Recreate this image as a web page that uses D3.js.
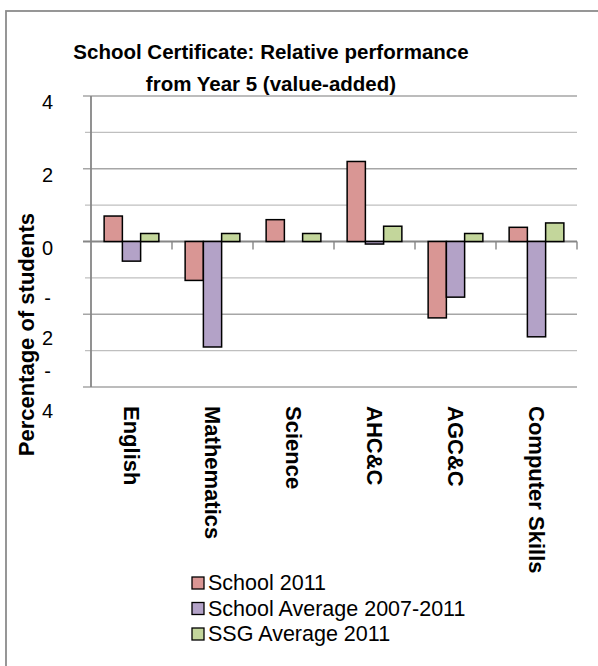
<!DOCTYPE html>
<html>
<head>
<meta charset="utf-8">
<script src="https://cdn.jsdelivr.net/npm/d3@7"></script>
<style>
  body { margin: 0; background: #fff; }
  svg { display: block; font-family: "Liberation Sans", Arial, sans-serif; }
</style>
</head>
<body>
<script>
// data
const categories = ["English", "Mathematics", "Science", "AHC&C", "AGC&C", "Computer Skills"];
const seriesNames = ["School 2011", "School Average 2007-2011", "SSG Average 2011"];
const school2011 = [0.7, -1.07, 0.6, 2.2, -2.1, 0.39];
const schoolAvg = [-0.54, -2.9, 0, -0.07, -1.53, -2.62];
const ssgAvg = [0.22, 0.22, 0.22, 0.42, 0.22, 0.51];
const seriesColors = ["#D99694", "#B3A2C7", "#C3D69B"];
const yMajor = [4, 2, 0, -2, -4];
const yMinor = [3, 1, -1, -3];

const width = 598, height = 666;
const plot = { left: 91, right: 577, top: 96, bottom: 387 };

const values = [school2011, schoolAvg, ssgAvg];
const data = categories.map((c, i) => ({
  category: c,
  bars: seriesNames.map((s, j) => ({ series: s, value: values[j][i], color: seriesColors[j] }))
}));

const x0 = d3.scaleBand().domain(categories).range([plot.left, plot.right]);
const x1 = d3.scaleBand().domain(seriesNames).range([0, x0.bandwidth()]).paddingOuter(0.72);
const y = d3.scaleLinear().domain([-4, 4]).range([plot.bottom, plot.top]);

const svg = d3.select("body").append("svg")
  .attr("width", width)
  .attr("height", height);

// outer chart border (runs off the right and bottom of the crop)
svg.append("rect")
  .attr("x", 6).attr("y", 11)
  .attr("width", 700).attr("height", 800)
  .attr("fill", "none")
  .attr("stroke", "#8c8c8c")
  .attr("stroke-width", 1.8);

// title
svg.append("text")
  .attr("x", 271).attr("y", 59)
  .attr("text-anchor", "middle")
  .attr("font-weight", "bold")
  .attr("font-size", 20.5)
  .selectAll("tspan")
  .data(["School Certificate: Relative performance", "from Year 5 (value-added)"])
  .join("tspan")
  .attr("x", 271)
  .attr("dy", (d, i) => (i ? 32 : 0))
  .text(d => d);

// gridlines
svg.append("g")
  .selectAll("line")
  .data(yMinor)
  .join("line")
  .attr("x1", plot.left - 6).attr("x2", plot.right)
  .attr("y1", d => y(d)).attr("y2", d => y(d))
  .attr("stroke", "#bfbfbf")
  .attr("stroke-width", 1.4);

svg.append("g")
  .selectAll("line")
  .data(yMajor)
  .join("line")
  .attr("x1", plot.left - 8).attr("x2", plot.right)
  .attr("y1", d => y(d)).attr("y2", d => y(d))
  .attr("stroke", d => (d === 0 ? "#868686" : "#a6a6a6"))
  .attr("stroke-width", d => (d === 0 ? 1.8 : 1.4));

// y axis line
svg.append("line")
  .attr("x1", plot.left).attr("x2", plot.left)
  .attr("y1", plot.top).attr("y2", plot.bottom)
  .attr("stroke", "#868686")
  .attr("stroke-width", 1.8);

// category tick marks on the zero line
svg.append("g")
  .selectAll("line")
  .data(categories.slice(1).map(c => x0(c)).concat([plot.right]))
  .join("line")
  .attr("x1", d => d).attr("x2", d => d)
  .attr("y1", y(0)).attr("y2", y(0) + 8)
  .attr("stroke", "#868686")
  .attr("stroke-width", 1.4);

// y tick labels (negative ones wrap onto two lines, as in the original)
const yLabels = svg.append("g")
  .attr("font-size", 20)
  .attr("text-anchor", "middle")
  .attr("fill", "#000");

yMajor.forEach(v => {
  const t = yLabels.append("text").attr("x", 47.5);
  if (v >= 0) {
    t.attr("y", y(v) + 13).text(v);
  } else {
    t.append("tspan").attr("x", 47.5).attr("y", y(v) - 9).text("-");
    t.append("tspan").attr("x", 47.5).attr("y", y(v) + 31).text(Math.abs(v));
  }
});

// y axis title
svg.append("text")
  .attr("transform", "translate(34,213) rotate(-90)")
  .attr("text-anchor", "end")
  .attr("font-weight", "bold")
  .attr("font-size", 22)
  .text("Percentage of students");

// bars
const groups = svg.append("g")
  .selectAll("g")
  .data(data)
  .join("g")
  .attr("transform", d => `translate(${x0(d.category)},0)`);

groups.selectAll("rect")
  .data(d => d.bars.filter(b => b.value !== 0))
  .join("rect")
  .attr("x", b => x1(b.series))
  .attr("width", x1.bandwidth())
  .attr("y", b => y(Math.max(0, b.value)))
  .attr("height", b => Math.abs(y(b.value) - y(0)))
  .attr("fill", b => b.color)
  .attr("stroke", "#000")
  .attr("stroke-width", 1.5);

// category labels, rotated to read downwards
svg.append("g")
  .selectAll("text")
  .data(categories)
  .join("text")
  .attr("transform", d => `translate(${x0(d) + x0.bandwidth() / 2},406) rotate(90)`)
  .attr("dominant-baseline", "central")
  .attr("font-weight", "bold")
  .attr("font-size", 22)
  .text(d => d);

// legend
const legend = svg.append("g")
  .selectAll("g")
  .data(seriesNames)
  .join("g")
  .attr("transform", (d, i) => `translate(192,${583 + i * 25.5})`);

legend.append("rect")
  .attr("x", 0).attr("y", -6)
  .attr("width", 12).attr("height", 12)
  .attr("fill", (d, i) => seriesColors[i])
  .attr("stroke", "#000")
  .attr("stroke-width", 1.3);

legend.append("text")
  .attr("x", 16)
  .attr("y", 0)
  .attr("dominant-baseline", "central")
  .attr("font-size", 21.5)
  .text(d => d);
</script>
</body>
</html>
